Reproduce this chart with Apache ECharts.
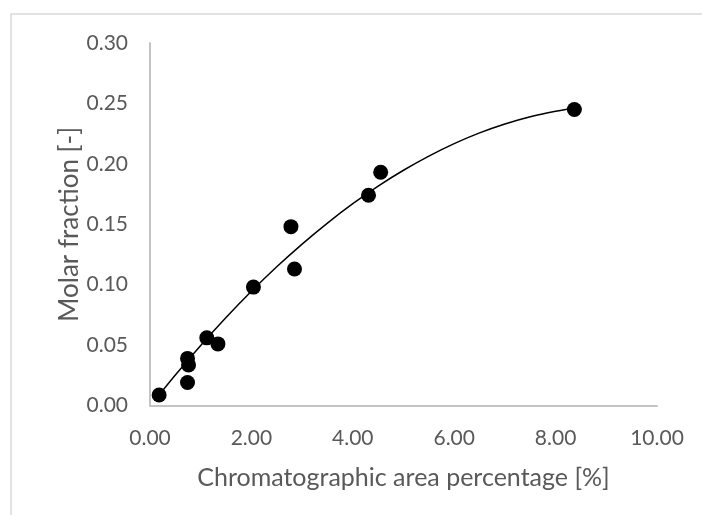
<!DOCTYPE html>
<html>
<head>
<meta charset="utf-8">
<script src="https://cdn.jsdelivr.net/npm/echarts@6/dist/echarts.min.js"></script>
<style>
  html, body { margin: 0; padding: 0; background: #fff; }
  #chart { width: 702px; height: 515px; }
</style>
</head>
<body>
<div id="chart"></div>
<script>
// measured points
const areaPct = [0.18, 0.74, 0.76, 0.74, 1.12, 1.34, 2.04, 2.78, 2.85, 4.31, 4.55, 8.37];
const molarFrac = [0.0087, 0.019, 0.0335, 0.039, 0.056, 0.051, 0.098, 0.148, 0.113, 0.174, 0.193, 0.245];

// trend line
const trendX = [0.18, 0.5, 1, 1.5, 2, 2.5, 3, 3.5, 4, 4.5, 5, 5.5, 6, 6.5, 7, 7.5, 8, 8.37];
const trendY = [0.0087, 0.0252, 0.0497, 0.0728, 0.0945, 0.1148, 0.1336, 0.151, 0.167, 0.1816,
  0.1947, 0.2064, 0.2167, 0.2256, 0.233, 0.239, 0.2436, 0.2463];

const chart = echarts.init(document.getElementById('chart'));
const font = 'Lato, "Open Sans", sans-serif';
const grey = '#595959';

chart.setOption({
  animation: false,
  graphic: [{
    type: 'rect',
    shape: { x: 11, y: 14, width: 720, height: 540 },
    style: { fill: 'none', stroke: '#d9d9d9', lineWidth: 1.5 },
    silent: true
  }],
  grid: {
    left: 150,
    right: 45,
    top: 43,
    bottom: 109.5
  },
  xAxis: {
    type: 'value',
    min: 0,
    max: 10,
    interval: 2,
    name: 'Chromatographic area percentage [%]',
    nameLocation: 'middle',
    nameGap: 60,
    nameTextStyle: { fontFamily: font, fontSize: 25, color: grey },
    axisLine: { lineStyle: { color: '#c4c4c4', width: 2 } },
    axisTick: { show: false },
    splitLine: { show: false },
    axisLabel: {
      margin: 22,
      fontFamily: font,
      fontSize: 21,
      color: grey,
      formatter: v => v.toFixed(2)
    }
  },
  yAxis: {
    type: 'value',
    min: 0,
    max: 0.3,
    interval: 0.05,
    name: 'Molar fraction [-]',
    nameLocation: 'middle',
    nameGap: 67,
    nameMoveOverlap: false,
    nameTextStyle: { fontFamily: font, fontSize: 26, color: grey },
    axisLine: { show: true, lineStyle: { color: '#c4c4c4', width: 2 } },
    axisTick: { show: false },
    splitLine: { show: false },
    axisLabel: {
      margin: 22,
      fontFamily: font,
      fontSize: 21,
      color: grey,
      formatter: v => v.toFixed(2)
    }
  },
  series: [
    {
      type: 'scatter',
      symbol: 'circle',
      symbolSize: 15,
      itemStyle: { color: '#000', opacity: 1 },
      data: areaPct.map((x, i) => [x, molarFrac[i]]),
      z: 3
    },
    {
      type: 'line',
      smooth: 0.3,
      showSymbol: false,
      lineStyle: { color: '#000', width: 1.5 },
      data: trendX.map((x, i) => [x, trendY[i]]),
      z: 2
    }
  ]
});
</script>
</body>
</html>
